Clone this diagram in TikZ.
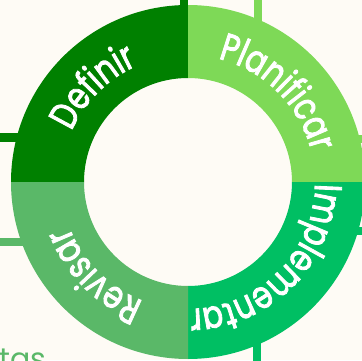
\documentclass[tikz,border=0pt]{standalone}
\usepackage{fontspec}
\setmainfont{Poppins}
\newfontfamily\ringfont{Poppins}[FakeStretch=0.78, FakeBold=2.2]
\usetikzlibrary{decorations.text}
\definecolor{bg}{RGB}{254,251,245}
\definecolor{cdef}{RGB}{0,128,0}
\definecolor{cplan}{RGB}{126,217,87}
\definecolor{cimp}{RGB}{0,191,99}
\definecolor{crev}{RGB}{90,184,104}
\tikzset{
  link/.style={line width=8.5pt},
  ringtext/.style={decorate, decoration={text along path, text align=center,
     text color=white, text={|\ringfont\fontsize{38.5}{38.5}\selectfont|#1}}}
}
\begin{document}
\begin{tikzpicture}[x=1pt,y=1pt]
\fill[bg] (0,0) rectangle (362,360);
\useasboundingbox (0,0) rectangle (362,360);
\begin{scope}
\clip (0,0) rectangle (362,360);
\coordinate (c) at (188,178);
% connectors leaving the ring
\coordinate (d1a) at (184,365); \coordinate (d1b) at (184,320);
\coordinate (d2a) at (-5,222.5); \coordinate (d2b) at (50,222.5);
\coordinate (p1a) at (258,365); \coordinate (p1b) at (258,320);
\coordinate (p2a) at (367,221); \coordinate (p2b) at (320,221);
\coordinate (i1a) at (367,129); \coordinate (i1b) at (320,129);
\coordinate (i2a) at (257,-5); \coordinate (i2b) at (257,40);
\coordinate (r1a) at (-5,118); \coordinate (r1b) at (50,118);
\draw[link,cdef] (d1a) -- (d1b);
\draw[link,cdef] (d2a) -- (d2b);
\draw[link,cplan] (p1a) -- (p1b);
\draw[link,cplan] (p2a) -- (p2b);
\draw[link,cimp] (i1a) -- (i1b);
\draw[link,cimp] (i2a) -- (i2b);
\draw[link,crev] (r1a) -- (r1b);
% ring sectors
\fill[cdef] ([shift={(90:177)}]c) arc[start angle=90,end angle=180,radius=177]
  -- ([shift={(180:104)}]c) arc[start angle=180,end angle=90,radius=104] -- cycle;
\fill[cplan] ([shift={(0:177)}]c) arc[start angle=0,end angle=90,radius=177]
  -- ([shift={(90:104)}]c) arc[start angle=90,end angle=0,radius=104] -- cycle;
\fill[cimp] ([shift={(-90:177)}]c) arc[start angle=-90,end angle=0,radius=177]
  -- ([shift={(0:104)}]c) arc[start angle=0,end angle=-90,radius=104] -- cycle;
\fill[crev] ([shift={(180:177)}]c) arc[start angle=180,end angle=270,radius=177]
  -- ([shift={(270:104)}]c) arc[start angle=270,end angle=180,radius=104] -- cycle;
% labels along the ring
\path[ringtext=Definir] ([shift={(180:127)}]c) arc[start angle=180,end angle=90,radius=127];
\path[ringtext=Planificar] ([shift={(90:127)}]c) arc[start angle=90,end angle=0,radius=127];
\path[ringtext=Implementar] ([shift={(0:127)}]c) arc[start angle=0,end angle=-90,radius=127];
\path[ringtext=Revisar] ([shift={(-90:127)}]c) arc[start angle=-90,end angle=-180,radius=127];
% cropped text at the bottom left
\node[anchor=base west, inner sep=0pt, text=crev, font=\fontsize{30}{30}\selectfont] (tas) at (-1,-9) {tas};
\end{scope}
\end{tikzpicture}
\end{document}
